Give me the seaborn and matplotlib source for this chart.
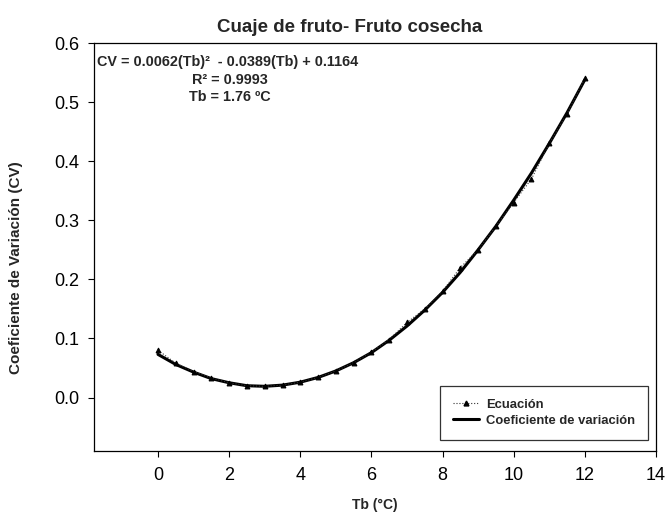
import matplotlib
matplotlib.use("Agg")
import matplotlib.pyplot as plt
import seaborn as sns
import pandas as pd
from matplotlib.lines import Line2D

tb = [0, 0.5, 1, 1.5, 2, 2.5, 3, 3.5, 4, 4.5, 5, 5.5, 6, 6.5, 7, 7.5, 8, 8.5,
      9, 9.5, 10, 10.5, 11, 11.5, 12]
ecuacion = [0.080, 0.058, 0.044, 0.033, 0.025, 0.020, 0.019, 0.021, 0.026, 0.034,
            0.045, 0.059, 0.077, 0.098, 0.127, 0.150, 0.180, 0.220, 0.250, 0.290,
            0.330, 0.370, 0.430, 0.480, 0.540]
coef_var = [0.073, 0.056, 0.043, 0.032, 0.025, 0.020, 0.019, 0.021, 0.026, 0.034,
            0.045, 0.059, 0.076, 0.097, 0.121, 0.148, 0.178, 0.212, 0.250, 0.290,
            0.334, 0.380, 0.430, 0.482, 0.538]

x_ticks = [0, 2, 4, 6, 8, 10, 12, 14]
y_ticks = [0.0, 0.1, 0.2, 0.3, 0.4, 0.5, 0.6]

title = "Cuaje de fruto- Fruto cosecha"
x_label = "Tb (°C)"
y_label = "Coeficiente de Variación (CV)"
eq_lines = ["CV = 0.0062(Tb)²  - 0.0389(Tb) + 0.1164", "R² = 0.9993", "Tb = 1.76 ºC"]

df = pd.DataFrame({"Tb": tb, "Ecuación": ecuacion, "Coeficiente de variación": coef_var})

sns.set_style("ticks")
plt.rcParams["font.family"] = ["Liberation Sans", "DejaVu Sans"]

fig = plt.figure(figsize=(6.68, 5.12), dpi=100)
ax = fig.add_axes([0.1407, 0.1197, 0.982 - 0.1407, 0.916 - 0.1197])

sns.lineplot(data=df, x="Tb", y="Coeficiente de variación", ax=ax, color="black",
             linewidth=2.2, zorder=2)
sns.lineplot(data=df, x="Tb", y="Ecuación", ax=ax, color="#333333", linewidth=0.8,
             linestyle=":", marker="^", markersize=3.5, markeredgecolor="black",
             markerfacecolor="black", zorder=3)

ax.set_xlim(-1.8, 14)
ax.set_ylim(-0.09, 0.6)
ax.set_xticks(x_ticks)
ax.set_yticks(y_ticks)
ax.set_yticklabels([f"{v:.1f}" for v in y_ticks])
ax.tick_params(axis="both", labelsize=13, direction="out", length=4.5, width=0.8,
               colors="black")
ax.tick_params(axis="x", pad=7.5)
ax.tick_params(axis="y", pad=6)
for s in ax.spines.values():
    s.set_visible(True)
    s.set_color("black")
    s.set_linewidth(0.9)

ax.set_title(title, fontsize=13.5, fontweight="bold", x=0.455, pad=8)
ax.set_xlabel(x_label, fontsize=10, fontweight="bold")
ax.xaxis.label.set_va("center")
ax.xaxis.set_label_coords(0.5, -0.133)
ax.set_ylabel(y_label, fontsize=11, fontweight="bold")
ax.yaxis.label.set_va("center")
ax.yaxis.set_label_coords(-0.138, 0.45)

ax.text(0.005, 0.953, eq_lines[0], transform=ax.transAxes, fontsize=10.4,
        fontweight="bold", ha="left", va="center")
ax.text(0.242, 0.909, eq_lines[1], transform=ax.transAxes, fontsize=10.4,
        fontweight="bold", ha="center", va="center")
ax.text(0.242, 0.868, eq_lines[2], transform=ax.transAxes, fontsize=10.4,
        fontweight="bold", ha="center", va="center")

handles = [
    Line2D([], [], color="#333333", linestyle=":", linewidth=0.8, marker="^",
           markersize=3.5, markerfacecolor="black", markeredgecolor="black"),
    Line2D([], [], color="black", linewidth=2.2),
]
leg = ax.legend(handles, ["Ecuación", "Coeficiente de variación"],
                loc="lower right", bbox_to_anchor=(0.986, 0.026),
                prop={"weight": "bold", "size": 9.4}, frameon=True, fancybox=False,
                edgecolor="black", handlelength=2.0, handletextpad=0.55,
                borderpad=1.0, labelspacing=0.3, borderaxespad=0)
leg.get_frame().set_linewidth(0.9)

fig.savefig("out.png", dpi=100)
